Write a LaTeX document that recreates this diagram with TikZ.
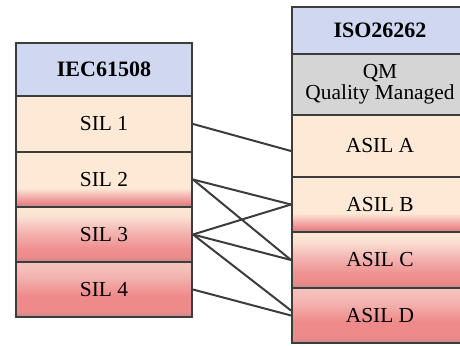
\documentclass[tikz,border=0pt]{standalone}
\usepackage{fontspec}
\setmainfont{Liberation Serif}
\usepackage{tikz}
\usetikzlibrary{positioning}

\definecolor{hdrblue}{HTML}{CFD8F0}
\definecolor{qmgray}{HTML}{D5D5D5}
\definecolor{peach}{HTML}{FDE9D5}
\definecolor{pinkpeach}{HTML}{FADFD2}
\definecolor{pinkc}{HTML}{F3B4B0}
\definecolor{redc}{HTML}{EE8A8A}
\definecolor{grayred}{HTML}{A08C8C}
\definecolor{edge}{HTML}{3C3C3C}

% vertical shadings, bottom -> top (path covers 25bp..75bp)
\pgfdeclareverticalshading{lvlB}{100bp}{color(0bp)=(grayred); color(25bp)=(grayred);
  color(26.5bp)=(redc!55!grayred); color(29bp)=(redc); color(35bp)=(pinkc);
  color(42bp)=(peach); color(100bp)=(peach)}
\pgfdeclareverticalshading{lvlC}{100bp}{color(0bp)=(grayred); color(25bp)=(grayred);
  color(26.5bp)=(redc!55!grayred); color(30bp)=(redc); color(38bp)=(redc!80!pinkc);
  color(52bp)=(pinkc); color(66bp)=(pinkpeach); color(75bp)=(peach); color(100bp)=(peach)}
\pgfdeclareverticalshading{lvlD}{100bp}{color(0bp)=(grayred); color(25bp)=(grayred);
  color(26.5bp)=(redc!55!grayred); color(30bp)=(redc); color(44bp)=(redc);
  color(62bp)=(pinkc); color(75bp)=(pinkc!60!pinkpeach); color(100bp)=(pinkc!60!pinkpeach)}

\begin{document}
\begin{tikzpicture}[
  x=0.5pt, y=-0.5pt,
  cell/.style={draw=edge, line width=1pt, minimum width=88pt, inner sep=0pt,
    align=center, font=\fontsize{10.7}{10.5}\selectfont},
  head/.style={cell, fill=hdrblue, font=\fontsize{11}{12}\selectfont\bfseries},
  low/.style={cell, fill=peach},
  midB/.style={cell, shading=lvlB},
  midC/.style={cell, shading=lvlC},
  highD/.style={cell, shading=lvlD},
  link/.style={line width=1pt, edge},
]
\useasboundingbox (0,0) rectangle (460,347);
\clip (0,0) rectangle (460,347);

% ── Left column: IEC61508 ──
\node[head, minimum height=26.5pt] (iec) at (104,69.5) {IEC61508};
\node[low,  minimum height=28pt]   (sil1) at (104,124)  {SIL 1};
\node[midB, minimum height=27.5pt] (sil2) at (104,179.5) {SIL 2};
\node[midC, minimum height=27.5pt] (sil3) at (104,234.5) {SIL 3};
\node[highD, minimum height=27.5pt] (sil4) at (104,289.5) {SIL 4};

% ── Right column: ISO26262 ──
\node[head, minimum height=23.5pt] (iso) at (380,30.5) {ISO26262};
\node[cell, fill=qmgray, minimum height=30.5pt] (qm) at (380,84.5)
  {QM\\Quality Managed};
\node[low,  minimum height=31pt]   (asilA) at (380,146)   {ASIL A};
\node[midB, minimum height=27.5pt] (asilB) at (380,204.5) {ASIL B};
\node[midC, minimum height=28pt]   (asilC) at (380,260)   {ASIL C};
\node[highD, minimum height=27.5pt] (asilD) at (380,315.5) {ASIL D};

% Mapping lines
\draw[link] (sil1.east) -- ([yshift=-2.5pt]asilA.west);
\draw[link] (sil2.east) -- (asilB.west);
\draw[link] (sil2.east) -- (asilC.west);
\draw[link] (sil3.east) -- (asilB.west);
\draw[link] (sil3.east) -- (asilC.west);
\draw[link] (sil3.east) -- ([yshift=2.5pt]asilD.west);
\draw[link] (sil4.east) -- (asilD.west);
\end{tikzpicture}
\end{document}
